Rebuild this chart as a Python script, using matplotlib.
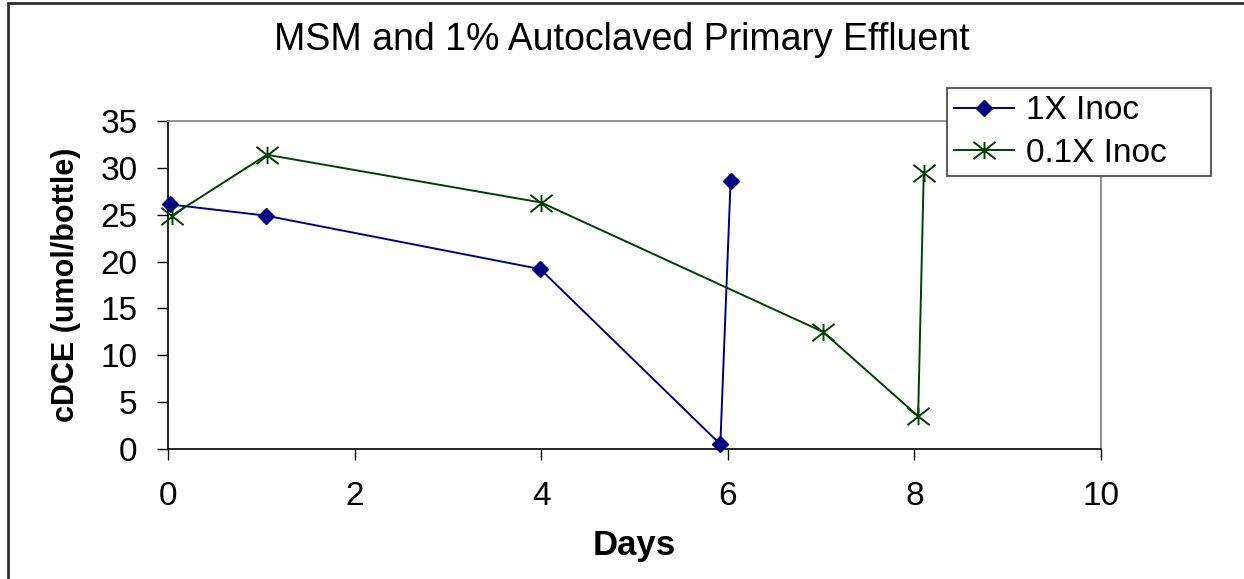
"""
cDCE over time in MSM with 1% autoclaved primary effluent.
"""
import matplotlib
matplotlib.use("Agg")
import matplotlib.pyplot as plt
from matplotlib.patches import Rectangle
from matplotlib.path import Path

# data
days_1x = [0.02, 1.05, 3.99, 5.92, 6.03]
cdce_1x = [26.1, 24.9, 19.2, 0.5, 28.6]

days_01x = [0.04, 1.06, 4.0, 7.02, 8.04, 8.1]
cdce_01x = [24.9, 31.4, 26.3, 12.5, 3.5, 29.4]

x_ticks = [0, 2, 4, 6, 8, 10]
y_ticks = [0, 5, 10, 15, 20, 25, 30, 35]

plt.rcParams['font.family'] = ['Liberation Sans', 'DejaVu Sans']

# Excel-style star marker: an "x" with a vertical bar, a bit wider than tall
star = Path([(-1, -0.78), (1, 0.78), (-1, 0.78), (1, -0.78), (0, -0.78), (0, 0.78)],
            [Path.MOVETO, Path.LINETO, Path.MOVETO, Path.LINETO, Path.MOVETO, Path.LINETO])

fig = plt.figure(figsize=(12.44, 5.79), dpi=100)
ax = fig.add_axes([168 / 1244, 1 - 449 / 579, (1101 - 168) / 1244, (449 - 121) / 579])

ax.plot(days_1x, cdce_1x, color='#000080', lw=1.4, marker='D', ms=8.5,
        label='1X Inoc', clip_on=False, zorder=3)
ax.plot(days_01x, cdce_01x, color='#004000', lw=1.4, marker=star, ms=16,
        mew=1.4, mfc='none', label='0.1X Inoc', clip_on=False, zorder=3)

ax.set_xlim(0, 10)
ax.set_ylim(0, 35)
ax.set_xticks(x_ticks)
ax.set_yticks(y_ticks)
ax.tick_params(direction='out', length=8, width=1, labelsize=24)
ax.tick_params(axis='y', pad=14)
ax.tick_params(axis='x', pad=15)

for side in ('left', 'bottom'):
    ax.spines[side].set_color('black')
    ax.spines[side].set_linewidth(1.2)
for side in ('top', 'right'):
    ax.spines[side].set_color('#808080')
    ax.spines[side].set_linewidth(1.2)

ax.set_xlabel('Days', fontsize=25, fontweight='bold', labelpad=12)
ax.set_ylabel('cDCE (umol/bottle)', fontsize=22, fontweight='bold', labelpad=14)
fig.text(622 / 1244, 1 - 40 / 579, 'MSM and 1% Autoclaved Primary Effluent',
         fontsize=27, ha='center', va='center')

# legend box spans x 947..1211, y 88..174 px in the reference
leg = ax.legend(loc='upper left', bbox_to_anchor=(947 / 1244, 1 - 174 / 579,
                                                   (1211 - 947) / 1244, 86 / 579),
                bbox_transform=fig.transFigure, mode='expand', fontsize=24,
                frameon=True, fancybox=False, borderpad=0.22, handlelength=1.8,
                handletextpad=0.35, labelspacing=0.35, borderaxespad=0)
leg.get_frame().set_edgecolor('#404040')
leg.get_frame().set_linewidth(1.2)
leg.get_frame().set_alpha(1)

# outer chart border (top and left only visible)
fig.add_artist(Rectangle((8 / 1244, -0.01), 1.1, 1 - 3 / 579 + 0.01,
                         transform=fig.transFigure, fill=False,
                         edgecolor='#303030', lw=2))

fig.savefig('out.png', dpi=100)
